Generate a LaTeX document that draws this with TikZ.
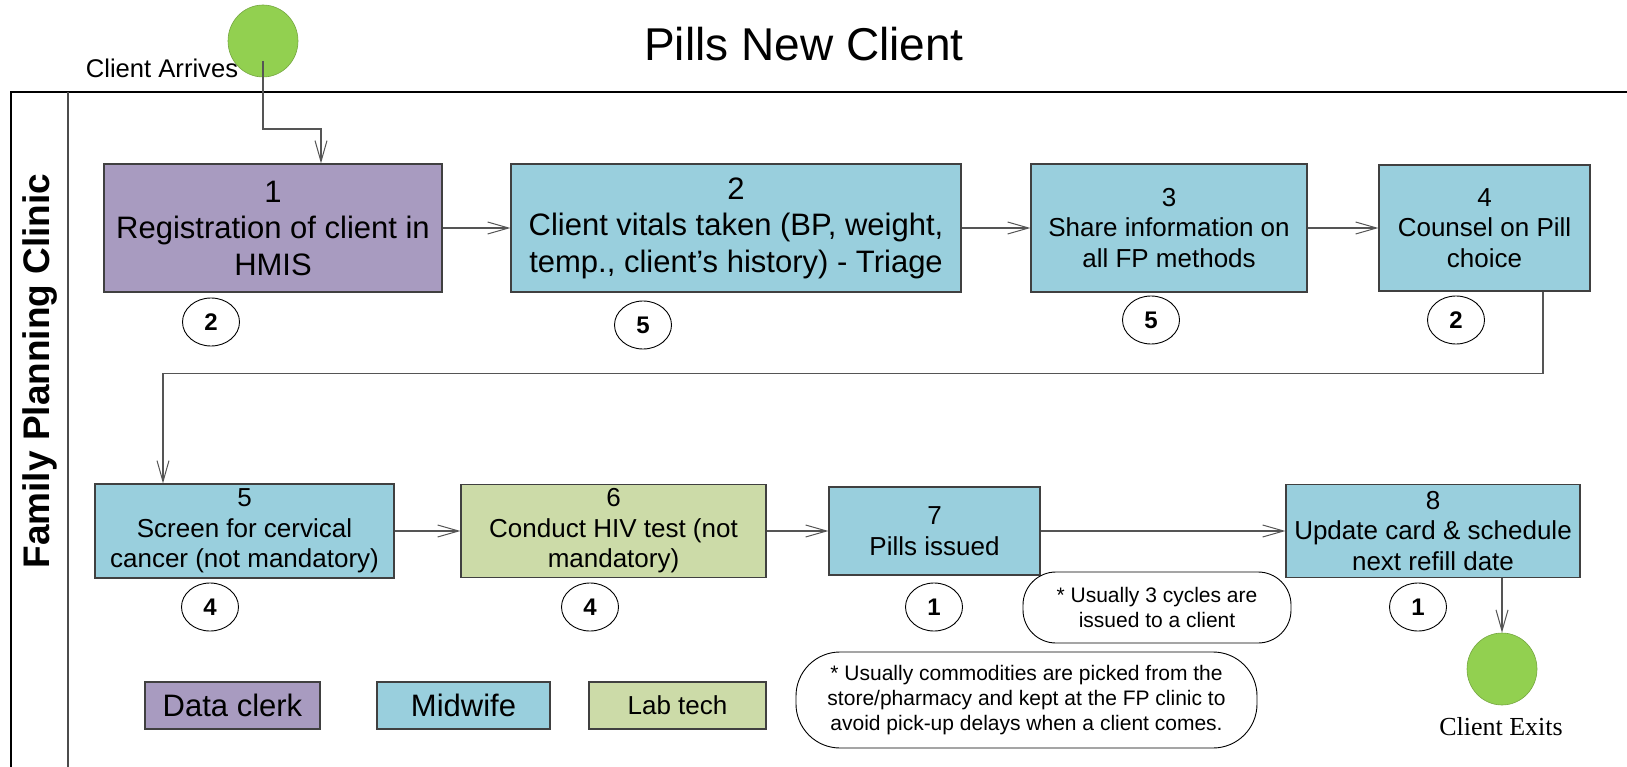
\documentclass[tikz,border=0pt]{standalone}
\usepackage{fontspec}
\setmainfont{Liberation Sans}
\newfontfamily\exitfont{Liberation Serif}
\usepackage{tikz}
\usetikzlibrary{shapes, arrows.meta, positioning, calc}

\definecolor{clerk}{RGB}{168,155,192}
\definecolor{midwife}{RGB}{153,207,221}
\definecolor{labtech}{RGB}{204,219,168}
\definecolor{endpt}{RGB}{146,208,80}
\definecolor{edge}{RGB}{64,64,64}
\definecolor{wire}{RGB}{85,85,85}

\begin{document}
\begin{tikzpicture}[x=1pt, y=-1pt,
    task/.style={draw=edge, line width=1.2pt, align=center, inner sep=0pt},
    bigtxt/.style={font=\fontsize{31}{36.5}\selectfont},
    midtxt/.style={font=\fontsize{26}{30.5}\selectfont},
    count/.style={draw=black, line width=0.9pt, ellipse, minimum width=57pt, minimum height=48pt, inner sep=0pt, font=\fontsize{24}{24}\selectfont\bfseries},
    note/.style={draw=black, line width=0.9pt, align=center, inner sep=0pt, font=\fontsize{21}{25}\selectfont},
    endpoint/.style={ellipse, fill=endpt, draw=endpt!80!black, line width=0.6pt, minimum width=70pt, minimum height=72pt, inner sep=0pt},
    conn/.style={draw=wire, line width=1.2pt, -{Straight Barb[length=21pt, width=12pt, line width=1pt]}}]
    \useasboundingbox (0,0) rectangle (1627,767);

    % Titre et couloir
    \node[font=\fontsize{46}{46}\selectfont] (title) at (804,44) {Pills New Client};
    \draw[line width=1.2pt] (11,767) -- (11,92) -- (1627,92);
    \draw[line width=1.2pt, draw=black!70] (68,92) -- (68,767);
    \node[rotate=90, font=\fontsize{37}{37}\selectfont\bfseries] (lane) at (40,371) {Family Planning Clinic};

    % Debut
    \node[endpoint] (start) at (263,41) {};
    \node[font=\fontsize{25.6}{26}\selectfont] (startlbl) at (162,68) {Client Arrives};

    % Premiere rangee
    \node[task, bigtxt, fill=clerk, minimum width=338pt, minimum height=128pt] (b1) at (273,228) {1\\Registration of client in\\HMIS};
    \node[task, bigtxt, fill=midwife, minimum width=450pt, minimum height=128pt] (b2) at (736,228) {2\\Client vitals taken (BP, weight,\\temp., client’s history) - Triage};
    \node[task, midtxt, fill=midwife, minimum width=276pt, minimum height=128pt] (b3) at (1169,228) {3\\Share information on\\all FP methods};
    \node[task, midtxt, fill=midwife, minimum width=211pt, minimum height=126pt] (b4) at (1484.5,228) {4\\Counsel on Pill\\choice};

    \node[count] (c1) at (211,322) {2};
    \node[count] (c2) at (643,325) {5};
    \node[count] (c3) at (1151,320) {5};
    \node[count] (c4) at (1456,320) {2};

    % Deuxieme rangee
    \node[task, midtxt, fill=midwife, minimum width=299pt, minimum height=94pt] (b5) at (244.5,531) {5\\Screen for cervical\\cancer (not mandatory)};
    \node[task, midtxt, fill=labtech, minimum width=305pt, minimum height=93pt] (b6) at (613.5,531) {6\\Conduct HIV test (not\\mandatory)};
    \node[task, midtxt, fill=midwife, minimum width=211pt, minimum height=88pt] (b7) at (934.5,531) {7\\Pills issued};
    \node[task, midtxt, fill=midwife, minimum width=294pt, minimum height=93pt] (b8) at (1433,531) {8\\Update card \& schedule\\next refill date};

    \node[count] (c5) at (210,607) {4};
    \node[count] (c6) at (590,607) {4};
    \node[count] (c7) at (934,607) {1};
    \node[count] (c8) at (1418,607) {1};

    % Remarques
    \node[note, rounded corners=33pt, minimum width=268pt, minimum height=71pt] (n1) at (1157,607.5) {* Usually 3 cycles are\\issued to a client};
    \node[note, rounded corners=44pt, minimum width=461pt, minimum height=96pt] (n2) at (1026.5,700) {* Usually commodities are picked from the\\store/pharmacy and kept at the FP clinic to\\avoid pick-up delays when a client comes.};

    % Legende
    \node[task, bigtxt, fill=clerk, minimum width=175pt, minimum height=47pt] (lg1) at (232.5,705.5) {Data clerk};
    \node[task, bigtxt, fill=midwife, minimum width=173pt, minimum height=47pt] (lg2) at (463.5,705.5) {Midwife};
    \node[task, midtxt, fill=labtech, minimum width=177pt, minimum height=47pt] (lg3) at (677.5,705.5) {Lab tech};

    % Fin
    \node[endpoint] (exit) at (1502,669) {};
    \node[font=\exitfont\fontsize{26}{26}\selectfont] (exitlbl) at (1501,727) {Client Exits};

    % Fleches
    \draw[conn] ([yshift=-20pt]start.center) -- ++(0,68) -| ([xshift=48pt]b1.north);
    \draw[conn] (b1) -- (b2);
    \draw[conn] (b2) -- (b3);
    \draw[conn] (b3) -- (b4);
    \draw[conn] ([xshift=58.5pt]b4.south) -- ++(0,82) -| ([xshift=-81.5pt]b5.north);
    \draw[conn] (b5) -- (b6);
    \draw[conn] (b6) -- (b7);
    \draw[conn] (b7) -- (b8);
    \draw[conn] (b8.south -| exit.north) -- (exit.north);
\end{tikzpicture}
\end{document}
